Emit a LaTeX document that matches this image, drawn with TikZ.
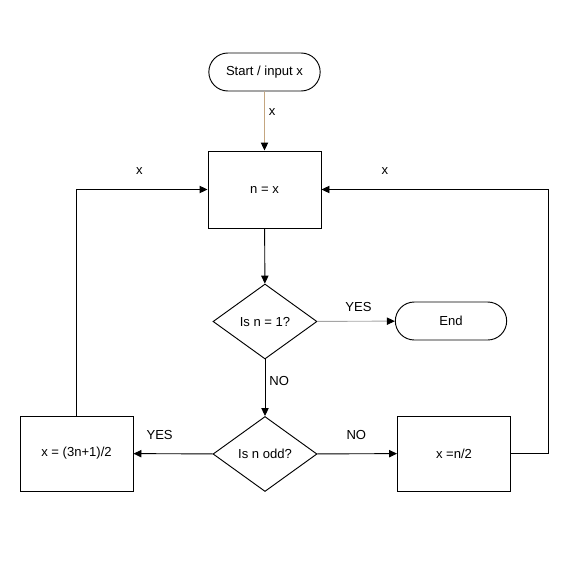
\documentclass[tikz,border=0pt]{standalone}
\usepackage{fontspec}
\setmainfont{Liberation Sans}
\usetikzlibrary{arrows.meta,shapes.geometric,shapes.misc,positioning}
\definecolor{startline}{RGB}{196,166,128}
\definecolor{yesline}  {RGB}{165,165,165}
\tikzset{
  chartfont/.style={font=\fontsize{9.8}{12}\selectfont},
  termbox/.style ={draw, rounded rectangle, chartfont,
                   minimum width=87.5pt, minimum height=28.5pt, inner sep=2pt},
  procbox/.style ={draw, rectangle, chartfont,
                   minimum width=84.75pt, minimum height=#1, inner sep=2pt},
  procbox/.default=56.25pt,
  decbox/.style  ={draw, diamond, aspect=1.4, chartfont,
                   minimum width=78pt, minimum height=56.25pt, inner sep=0pt},
  lbl/.style     ={chartfont, inner sep=1pt},
  arr/.style     ={-{Triangle[length=6pt,width=5.5pt,color=black]}, line width=0.7pt},
}

\begin{document}
\begin{tikzpicture}[x=0.75pt,y=-0.75pt,line width=0.7pt]
  \useasboundingbox (0,0) rectangle (567,567);
  \node[termbox] (start) at (264.5,72) {Start / input x};
  \node[procbox=57.75pt] (setn) at (264.5,189.5) {n = x};
  \node[decbox] (isone) at (265,321.5) {Is n = 1?};
  \node[termbox] (stop) at (451,321) {End};
  \node[decbox] (isodd) at (265,454) {Is n odd?};
  \node[procbox] (oddstep) at (76.5,453.5) {x = (3n+1)/2};
  \node[procbox] (evenstep) at (454,453.5) {x =n/2};
  % main line
  \draw[arr,draw=startline] (start) -- node[lbl,right=2pt,pos=0.35] {x} (setn);
  \draw[arr] (setn) -- (isone);
  \draw[arr,draw=yesline] (isone) -- node[lbl,above=6pt,pos=0.53] {YES} (stop);
  \draw[arr] (isone) -- node[lbl,right=2pt,pos=0.38] {NO} (isodd);
  \draw[arr] (isodd) -- node[lbl,above=9pt,pos=0.67] {YES} (oddstep);
  \draw[arr] (isodd) -- node[lbl,above=9pt,pos=0.49] {NO} (evenstep);
  % loops back
  \draw[arr] (evenstep.east) -- ++(37,0) |- node[lbl,above=10pt,pos=0.86] {x} (setn.east);
  \draw[arr] (oddstep.north) |- node[lbl,above=10pt,pos=0.74] {x} (setn.west);
\end{tikzpicture}
\end{document}
